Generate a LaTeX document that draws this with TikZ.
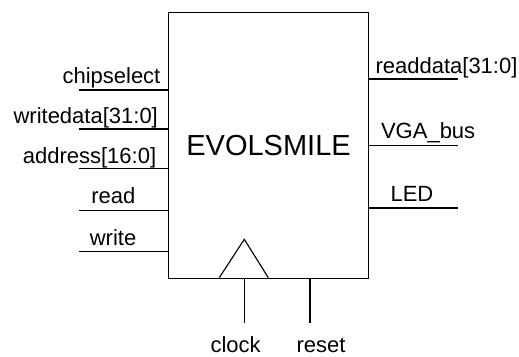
\documentclass[tikz,border=0pt]{standalone}
\usepackage{fontspec}
\setmainfont{Liberation Sans}
\begin{document}
\begin{tikzpicture}[x=1pt,y=1pt,line width=1.1pt,
  wire/.style={line width=1.1pt},
  lbl/.style={inner sep=0pt,font=\fontsize{22}{26}\selectfont,anchor=base west},
  blockbox/.style={draw,inner sep=0pt,anchor=north west,minimum width=199.4pt,minimum height=265.4pt,font=\fontsize{29}{34}\selectfont}]
\useasboundingbox (0,0) rectangle (519,-356);
\node[blockbox] (blk) at (168.3,-12.3) {EVOLSMILE};
% left pins
\coordinate (pcs) at (79,-90);
\coordinate (pwd) at (79,-129);
\coordinate (pad) at (79,-168.5);
\coordinate (prd) at (79,-210.7);
\coordinate (pwr) at (79,-251.7);
\foreach \p in {pcs,pwd,pad,prd,pwr} \draw[wire] (\p) -- (\p -| blk.west);
\node[lbl] (lcs) at (62,-83.3) {chipselect};
\node[lbl] (lwd) at (13,-123.3) {writedata[31:0]};
\node[lbl] (lad) at (22.3,-163.3) {address[16:0]};
\node[lbl] (lrd) at (90.7,-203.8) {read};
\node[lbl] (lwr) at (89.3,-245) {write};
% right pins
\coordinate (prdd) at (458,-79);
\coordinate (pvga) at (458,-145.5);
\coordinate (pled) at (458,-208);
\foreach \p in {prdd,pvga,pled} \draw[wire] (blk.east |- \p) -- (\p);
\node[lbl] (lrdd) at (375,-73) {readdata[31:0]};
\node[lbl] (lvga) at (380.5,-138.3) {VGA\_bus};
\node[lbl] (lled) at (390,-201.7) {LED};
% clock triangle
\coordinate (tl) at (219.3,-277.7);
\coordinate (tt) at (244.3,-239.3);
\coordinate (tr) at (268.3,-277.7);
\draw[wire,line join=miter] (tl) -- (tt) -- (tr);
% bottom pins
\coordinate (pck) at (244.3,-323);
\coordinate (prs) at (310,-323);
\draw[wire] (pck) -- (pck |- blk.south);
\draw[wire] (prs) -- (prs |- blk.south);
\node[lbl] (lck) at (210,-352.6) {clock};
\node[lbl] (lrs) at (296,-352.4) {reset};
\end{tikzpicture}
\end{document}
